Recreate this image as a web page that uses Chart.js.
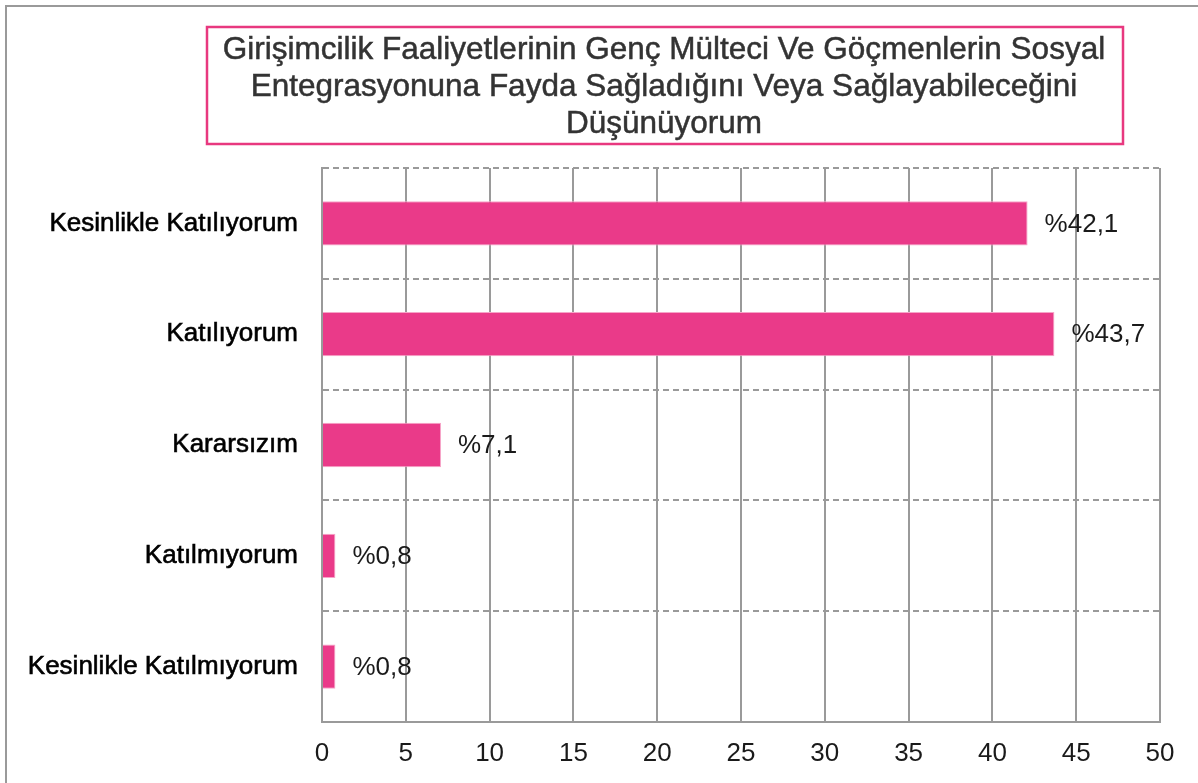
<!DOCTYPE html>
<html>
<head>
<meta charset="utf-8">
<script src="https://cdn.jsdelivr.net/npm/chart.js@4/dist/chart.umd.min.js"></script>
<style>
  html, body { margin: 0; padding: 0; background: #fff; }
  #wrap { width: 1198px; height: 783px; position: relative; }
</style>
</head>
<body>
<div id="wrap"><canvas id="chart" width="1198" height="783"></canvas></div>
<script>
const titleLines = [
  "Girişimcilik Faaliyetlerinin Genç Mülteci Ve Göçmenlerin Sosyal",
  "Entegrasyonuna Fayda Sağladığını Veya Sağlayabileceğini",
  "Düşünüyorum"
];
const categories = [
  "Kesinlikle Katılıyorum",
  "Katılıyorum",
  "Kararsızım",
  "Katılmıyorum",
  "Kesinlikle Katılmıyorum"
];
const percentages = [42.1, 43.7, 7.1, 0.8, 0.8];
const xTicks = [0, 5, 10, 15, 20, 25, 30, 35, 40, 45, 50];

const pink = "#EA3A89";
const font = "Liberation Sans";

// outer frame + title box
const framePlugin = {
  id: "frame",
  beforeDraw(chart) {
    const ctx = chart.ctx;
    ctx.save();
    ctx.fillStyle = "#fff";
    ctx.fillRect(0, 0, chart.width, chart.height);
    ctx.strokeStyle = "#9a9a9a";
    ctx.lineWidth = 2;
    ctx.beginPath();
    ctx.moveTo(6, chart.height);
    ctx.lineTo(6, 6);
    ctx.lineTo(chart.width, 6);
    ctx.stroke();

    ctx.strokeStyle = "#E8387F";
    ctx.lineWidth = 2.5;
    ctx.strokeRect(207, 27, 916, 117);
    ctx.fillStyle = "#333";
    ctx.strokeStyle = "#333";
    ctx.lineWidth = 0.5;
    ctx.font = "31.5px " + font;
    ctx.textAlign = "center";
    ctx.textBaseline = "middle";
    titleLines.forEach((line, i) => {
      ctx.fillText(line, 664, 50 + i * 37);
      ctx.strokeText(line, 664, 50 + i * 37);
    });
    ctx.restore();
  }
};

// value labels next to bars
const labelPlugin = {
  id: "valueLabels",
  afterDatasetsDraw(chart) {
    const ctx = chart.ctx;
    const meta = chart.getDatasetMeta(0);
    ctx.save();
    ctx.fillStyle = "#1a1a1a";
    ctx.font = "26px " + font;
    ctx.textAlign = "left";
    ctx.textBaseline = "middle";
    meta.data.forEach((bar, i) => {
      const txt = "%" + percentages[i].toFixed(1).replace(".", ",");
      ctx.fillText(txt, bar.x + 17, bar.y + 1);
    });
    ctx.restore();
  }
};

new Chart(document.getElementById("chart"), {
  type: "bar",
  data: {
    labels: categories,
    datasets: [{
      data: percentages,
      backgroundColor: pink,
      borderColor: "#F6A5C8",
      borderWidth: 1,
      categoryPercentage: 1,
      barPercentage: 0.4
    }]
  },
  options: {
    indexAxis: "y",
    responsive: false,
    animation: false,
    layout: { padding: { top: 168, left: 10, right: 38, bottom: 11 } },
    plugins: { legend: { display: false }, tooltip: { enabled: false } },
    scales: {
      x: {
        min: 0,
        max: 50,
        afterBuildTicks(scale) { scale.ticks = xTicks.map((v) => ({ value: v })); },
        afterFit(scale) { scale.height = 50; },
        grid: { color: "#9a9a9a", lineWidth: 2, drawTicks: false },
        border: { color: "#9a9a9a", width: 2 },
        ticks: { color: "#1a1a1a", font: { family: font, size: 26 }, padding: 16 }
      },
      y: {
        afterFit(scale) { scale.width = 312; },
        grid: { color: "#9a9a9a", lineWidth: 2, drawTicks: false, offset: true },
        border: { color: "#9a9a9a", width: 2, dash: [6, 4] },
        ticks: {
          color: "#000", font: { family: font, size: 26 }, padding: 24,
          textStrokeColor: "#000", textStrokeWidth: 0.6
        }
      }
    }
  },
  plugins: [framePlugin, labelPlugin]
});
</script>
</body>
</html>
